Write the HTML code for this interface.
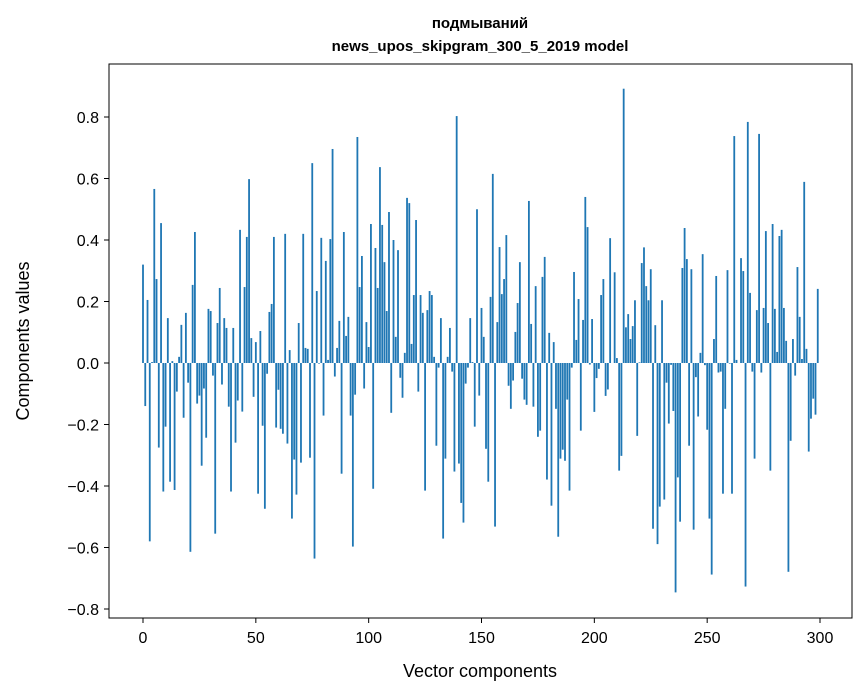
<!DOCTYPE html>
<html><head><meta charset="utf-8"><style>
body{margin:0;background:#fff}
svg{display:block;font-family:"Liberation Sans","DejaVu Sans",sans-serif}
</style></head><body>
<svg id="chart" width="867" height="696" viewBox="0 0 867 696" xmlns="http://www.w3.org/2000/svg">
<rect width="867" height="696" fill="#fff"/>
<text x="480" y="28" text-anchor="middle" font-weight="bold" font-size="15">подмываний</text>
<text x="480" y="51" text-anchor="middle" font-weight="bold" font-size="15">news_upos_skipgram_300_5_2019 model</text>
<g id="bars"></g>
<g id="axes"></g>
<rect x="109" y="64" width="743" height="554" fill="none" stroke="#000" stroke-width="1"/>
<text x="480" y="677" text-anchor="middle" font-size="18">Vector components</text>
<text transform="translate(29,341) rotate(-90)" text-anchor="middle" font-size="18">Components values</text>
</svg>
<script>
const values = [0.32,-0.14,0.205,-0.58,0.003,0.566,0.273,-0.275,0.455,-0.418,
-0.207,0.146,-0.386,0.006,-0.413,-0.093,0.02,0.124,-0.178,0.163,
-0.064,-0.614,0.254,0.426,-0.132,-0.106,-0.334,-0.083,-0.243,0.176,
0.169,-0.041,-0.555,0.13,0.244,-0.07,0.146,0.114,-0.142,-0.418,
0.114,-0.259,-0.122,0.433,-0.158,0.247,0.41,0.598,0.081,-0.11,
0.068,-0.425,0.104,-0.204,-0.474,-0.035,0.166,0.192,0.41,-0.21,
-0.087,-0.214,-0.23,0.42,-0.262,0.042,-0.506,-0.314,-0.428,0.13,
-0.324,0.42,0.049,0.046,-0.308,0.65,-0.636,0.234,-0.002,0.407,
-0.171,0.332,0.01,0.403,0.696,-0.044,0.049,0.137,-0.36,0.426,
0.088,0.15,-0.171,-0.597,-0.103,0.735,0.247,0.348,-0.083,0.133,
0.052,0.452,-0.409,0.374,0.244,0.637,0.449,0.328,0.169,0.491,
-0.162,0.4,0.085,0.367,-0.048,-0.113,0.033,0.537,0.52,0.062,
0.221,0.465,-0.093,0.221,0.163,-0.415,0.172,0.234,0.221,0.02,
-0.269,-0.015,0.146,-0.571,-0.311,0.02,0.114,-0.028,-0.353,0.803,
-0.327,-0.455,-0.519,-0.067,-0.015,0.146,0.003,-0.207,0.5,-0.106,
0.179,0.085,-0.279,-0.386,0.215,0.615,-0.532,0.133,0.377,0.224,
0.273,0.416,-0.074,-0.149,-0.057,0.101,0.195,0.328,-0.051,-0.119,
-0.136,0.527,0.127,-0.142,0.25,-0.24,-0.22,0.28,0.345,-0.379,
0.098,-0.464,0.068,-0.149,-0.565,-0.311,-0.282,-0.318,-0.119,-0.415,
-0.015,0.296,0.075,0.208,-0.22,0.14,0.54,0.442,-0.005,0.143,
-0.159,-0.049,-0.019,0.221,0.273,-0.107,-0.086,0.406,0,0.295,
0.016,-0.35,-0.302,0.892,0.116,0.159,0.078,0.12,0.204,-0.237,
0.002,0.325,0.376,0.25,0.204,0.305,-0.539,0.123,-0.589,-0.467,
0.204,-0.444,-0.064,-0.197,-0.006,-0.156,-0.746,-0.372,-0.516,0.309,
0.439,0.338,-0.269,0.305,-0.542,-0.046,-0.174,0.033,0.354,-0.007,
-0.217,-0.506,-0.688,0.078,0.283,-0.031,-0.028,-0.425,-0.149,0.302,
-0.002,-0.425,0.738,0.01,0,0.341,0.299,-0.727,0.784,0.228,
-0.028,-0.311,0.172,0.745,-0.031,0.179,0.429,0.13,-0.35,0.452,
0.176,0.036,0.413,0.433,0.179,0.072,-0.679,-0.253,0.078,-0.041,
0.312,0.15,0.013,0.589,0.046,-0.288,-0.181,-0.116,-0.168,0.241];
const xTicks = [0,50,100,150,200,250,300];
const yTicks = [-0.8,-0.6,-0.4,-0.2,0.0,0.2,0.4,0.6,0.8];
const yTickLabels = ["−0.8","−0.6","−0.4","−0.2","0.0","0.2","0.4","0.6","0.8"];

const NS = "http://www.w3.org/2000/svg";
function xs(v){ return 143 + v * 2.2567; }
function ys(v){ return 363 - v * 307.5; }
const gb = document.getElementById('bars');
values.forEach((v,i)=>{
  const r = document.createElementNS(NS,'rect');
  const x0 = xs(i-0.4), x1 = xs(i+0.4);
  const y0 = Math.min(ys(v), ys(0)), h = Math.abs(ys(v)-ys(0));
  r.setAttribute('x', x0); r.setAttribute('width', x1-x0);
  r.setAttribute('y', y0); r.setAttribute('height', Math.max(h,0.01));
  r.setAttribute('fill', '#1f77b4');
  
  
  gb.appendChild(r);
});
const ga = document.getElementById('axes');
xTicks.forEach(t=>{
  const l = document.createElementNS(NS,'line');
  l.setAttribute('x1', xs(t)); l.setAttribute('x2', xs(t));
  l.setAttribute('y1', 618); l.setAttribute('y2', 623);
  l.setAttribute('stroke', '#000');
  
  
  ga.appendChild(l);
  const tx = document.createElementNS(NS,'text');
  tx.setAttribute('x', xs(t)); tx.setAttribute('y', 643);
  tx.setAttribute('text-anchor', 'middle'); tx.setAttribute('font-size', '16');
  tx.textContent = String(t);
  
  
  ga.appendChild(tx);
});
yTicks.forEach((t,k)=>{
  const l = document.createElementNS(NS,'line');
  l.setAttribute('x1', 104); l.setAttribute('x2', 109);
  l.setAttribute('y1', ys(t)); l.setAttribute('y2', ys(t));
  l.setAttribute('stroke', '#000');
  
  
  ga.appendChild(l);
  const tx = document.createElementNS(NS,'text');
  tx.setAttribute('x', 99); tx.setAttribute('y', ys(t)+6);
  tx.setAttribute('text-anchor', 'end'); tx.setAttribute('font-size', '16');
  tx.textContent = yTickLabels[k];
  
  
  ga.appendChild(tx);
});
</script>
</body></html>
